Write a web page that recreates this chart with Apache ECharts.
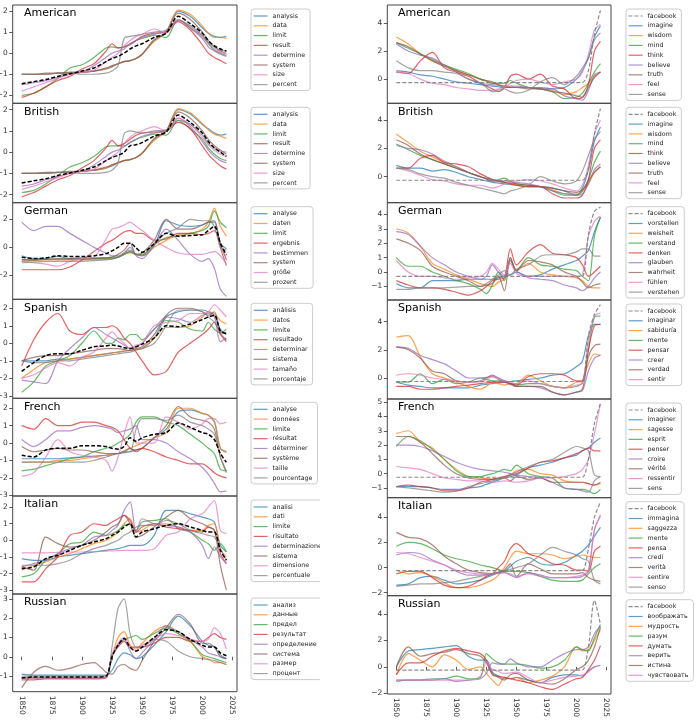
<!DOCTYPE html>
<html><head><meta charset="utf-8">
<script src="https://cdn.jsdelivr.net/npm/echarts@6/dist/echarts.min.js"></script>
<style>html,body{margin:0;padding:0;background:#fff}#c{width:700px;height:722px}</style>
</head><body><div id="c"></div><script>
// ---------------- DATA ----------------
const years = [1850,1860,1870,1880,1890,1900,1910,1920,1925,1930,1935,1940,1945,1950,1960,1970,1980,1990,2000,2005,2010,2015,2020];
const xTicks = [1850,1875,1900,1925,1950,1975,2000,2025];

// Left column: American
const amL_words = ['analysis','data','limit','result','determine','system','size','percent'];
const amL_vals = [
 [-1.0,-1.0,-1.0,-0.95,-0.95,-0.9,-0.85,-0.75,-0.65,-0.5,-0.4,-0.35,-0.25,-0.05,0.6,1.0,2.0,1.75,1.2,0.95,0.8,0.75,0.8],
 [-1.0,-1.0,-1.0,-0.95,-0.95,-0.9,-0.85,-0.75,-0.6,-0.5,-0.4,-0.35,-0.25,-0.05,0.55,1.0,2.05,1.85,1.3,0.95,0.75,0.75,0.7],
 [-2.0,-1.9,-1.6,-1.2,-0.7,-0.55,-0.2,0.25,0.3,0.25,0.3,0.45,0.6,0.7,0.85,0.75,1.6,1.2,0.8,0.45,0.15,0.0,-0.1],
 [-2.1,-1.9,-1.6,-1.3,-1.1,-0.75,-0.5,0.1,0.45,0.25,0.3,0.4,0.6,0.8,0.95,1.0,1.5,1.1,0.4,0.0,-0.2,-0.35,-0.5],
 [-1.5,-1.4,-1.3,-1.15,-1.0,-0.9,-0.6,-0.2,0.0,0.1,0.2,0.45,0.6,0.75,0.9,1.05,1.6,1.2,0.7,0.3,0.1,-0.05,-0.15],
 [-1.0,-1.0,-0.95,-0.95,-0.9,-0.9,-0.85,-0.7,-0.6,-0.5,-0.4,-0.35,-0.25,-0.05,0.65,1.0,1.9,1.6,1.0,0.6,0.3,0.1,0.0],
 [-1.8,-1.6,-1.4,-1.2,-1.0,-0.9,-0.8,-0.4,-0.2,0.0,0.35,0.6,0.8,0.9,1.15,0.95,1.6,1.3,0.8,0.5,0.2,0.05,-0.05],
 [-1.0,-1.0,-1.0,-0.95,-0.95,-1.0,-1.0,-0.95,-0.85,-0.6,0.7,0.8,0.85,0.9,1.0,1.1,1.55,1.3,0.85,0.5,0.3,0.15,0.1]
];
const amL_mean = [-1.45,-1.35,-1.25,-1.1,-0.98,-0.85,-0.7,-0.4,-0.25,-0.15,0.0,0.2,0.35,0.45,0.75,0.95,1.75,1.4,0.95,0.6,0.35,0.2,0.1];

// British
const brL_words = ['analysis','data','limit','result','determine','system','size','percent'];
const brL_vals = [
 [-1.0,-1.0,-1.0,-0.95,-0.95,-0.9,-0.85,-0.75,-0.65,-0.5,-0.4,-0.35,-0.25,-0.05,0.6,1.0,2.0,1.8,1.3,1.1,0.9,0.8,0.85],
 [-1.0,-1.0,-1.0,-0.95,-0.95,-0.9,-0.85,-0.75,-0.6,-0.5,-0.4,-0.35,-0.25,-0.05,0.55,1.0,2.05,1.85,1.35,1.05,0.85,0.75,0.65],
 [-1.9,-1.8,-1.5,-1.1,-0.7,-0.5,-0.2,0.25,0.3,0.3,0.3,0.45,0.6,0.7,0.85,0.8,1.5,1.1,0.6,0.2,-0.1,-0.3,-0.4],
 [-2.1,-1.9,-1.6,-1.3,-1.1,-0.75,-0.4,0.2,0.55,0.3,0.4,0.6,0.8,0.9,0.95,1.0,1.4,1.1,0.3,-0.1,-0.4,-0.65,-0.8],
 [-1.6,-1.5,-1.3,-1.15,-1.0,-0.9,-0.6,-0.2,0.0,0.1,0.25,0.45,0.6,0.75,0.9,1.0,1.6,1.2,0.5,0.1,-0.2,-0.4,-0.5],
 [-1.0,-1.0,-0.95,-0.95,-0.9,-0.9,-0.85,-0.7,-0.6,-0.5,-0.4,-0.35,-0.25,-0.05,0.65,1.0,1.9,1.6,1.0,0.6,0.3,0.1,-0.1],
 [-1.75,-1.6,-1.4,-1.2,-1.0,-0.9,-0.8,-0.4,-0.2,0.0,0.4,0.7,0.9,1.0,1.2,1.0,1.6,1.3,0.7,0.35,0.1,-0.1,-0.2],
 [-1.0,-1.0,-1.0,-0.95,-0.95,-1.0,-1.0,-0.95,-0.85,-0.5,0.85,1.0,0.95,0.9,1.0,1.05,1.5,1.3,0.8,0.4,0.2,0.05,0.0]
];
const brL_mean = [-1.45,-1.35,-1.25,-1.1,-0.98,-0.85,-0.7,-0.4,-0.25,-0.15,0.0,0.3,0.35,0.45,0.75,0.95,1.75,1.4,0.9,0.5,0.2,0.0,-0.2];

// German
const deL_words = ['analyse','daten','limit','ergebnis','bestimmen','system','größe','prozent'];
const deL_vals = [
 [-0.6,-0.8,-0.8,-0.65,-0.8,-0.75,-0.75,-0.75,-0.7,-0.7,-0.5,-0.3,-0.5,-0.6,0.1,1.9,1.6,1.5,1.6,1.8,1.9,0.3,-0.1],
 [-1.0,-0.95,-0.9,-0.9,-0.9,-0.9,-0.85,-0.85,-0.8,-0.7,-0.5,-0.4,-0.5,-0.6,0.0,0.5,0.9,1.0,1.3,1.8,2.8,1.5,0.8],
 [-0.9,-0.9,-0.85,-0.85,-0.85,-0.85,-0.8,-0.8,-0.8,-0.7,-0.5,-0.3,-0.5,-0.5,0.2,0.7,0.8,1.0,1.2,1.5,2.6,1.8,1.4],
 [-1.6,-1.6,-1.6,-1.6,-1.4,-0.9,-0.3,0.3,0.5,0.8,1.1,1.2,1.0,1.0,0.5,0.6,1.0,1.0,0.9,1.0,1.2,0.2,-0.9],
 [1.8,1.2,1.5,1.5,1.0,0.5,0.0,-0.4,-0.6,-0.6,-0.4,0.0,-0.6,-0.8,0.2,1.3,0.5,-0.5,-1.0,-0.8,-1.5,-3.0,-3.5],
 [-0.9,-0.9,-0.85,-0.8,-0.8,-0.8,-0.8,-0.75,-0.7,-0.5,-0.2,0.3,-0.5,-0.4,0.5,2.0,1.3,1.3,1.6,1.8,1.8,0.0,-1.3],
 [-1.0,-1.1,-1.2,-1.35,-1.0,-0.8,-0.7,0.6,1.3,1.4,1.6,1.8,1.5,1.2,0.5,0.0,-0.4,-0.5,-0.5,-0.4,-0.3,-0.6,-1.2],
 [-1.1,-1.05,-1.0,-1.0,-1.0,-1.0,-0.95,-0.9,-0.85,-0.7,-0.4,-0.2,-0.5,-0.6,0.3,1.0,1.4,2.0,1.9,1.9,1.5,0.0,-0.2]
];
const deL_mean = [-0.7,-0.8,-0.75,-0.6,-0.65,-0.65,-0.6,-0.45,-0.25,0.0,0.3,0.3,-0.05,-0.35,0.25,1.0,0.8,0.85,0.9,1.2,1.5,0.3,-0.55];

// Spanish
const esL_words = ['análisis','datos','límite','resultado','determinar','sistema','tamaño','porcentaje'];
const esL_vals = [
 [-1.0,-1.0,-1.0,-0.9,-0.9,-0.8,-0.7,-0.6,-0.55,-0.5,-0.45,-0.4,-0.35,-0.3,0.3,1.5,1.8,1.9,1.9,1.8,1.6,0.8,0.5],
 [-2.0,-1.5,-1.1,-1.0,-0.9,-0.8,-0.7,-0.6,-0.55,-0.5,-0.45,-0.4,-0.35,-0.3,0.3,0.9,0.9,1.0,1.5,1.8,1.7,1.3,1.1],
 [-2.8,-2.2,-1.3,-1.0,-0.7,0.0,0.7,0.0,0.0,0.3,0.2,0.5,0.5,0.2,0.8,1.3,1.2,0.8,0.7,1.2,0.8,0.6,0.8],
 [-1.3,0.2,1.2,1.7,0.7,0.5,0.9,0.9,1.0,0.8,0.3,0.0,-0.5,-1.0,-1.8,-1.6,-0.5,0.0,0.5,0.8,1.2,0.5,0.1],
 [-2.1,-2.2,-2.3,-1.0,-0.3,0.3,0.9,0.5,0.3,0.1,-0.1,-0.3,-0.2,0.0,0.8,1.5,1.4,1.2,1.6,1.7,1.5,0.1,0.3],
 [-1.0,-0.8,-0.7,-0.7,-0.6,-0.5,-0.4,-0.3,-0.3,-0.3,-0.35,-0.4,-0.3,-0.2,0.5,1.6,2.0,2.0,1.8,1.6,1.8,0.6,0.2],
 [-2.0,-1.8,-1.4,-1.1,-1.3,-0.8,-0.5,0.3,0.65,0.3,0.0,-0.3,-0.1,0.0,1.0,1.2,1.3,1.7,1.7,1.8,2.2,1.9,1.5],
 [-1.0,-1.1,-1.1,-1.0,-1.0,-0.9,-0.8,-0.7,-0.65,-0.6,-0.55,-0.5,-0.4,-0.3,0.0,1.0,1.9,1.9,1.8,1.5,1.2,0.7,0.6]
];
const esL_mean = [-1.6,-1.1,-0.7,-0.6,-0.6,-0.4,-0.2,-0.15,-0.1,-0.15,-0.25,-0.3,-0.2,-0.05,0.3,1.0,0.95,1.1,1.35,1.5,1.6,0.7,0.55];

// French
const frL_words = ['analyse','données','limite','résultat','déterminer','système','taille','pourcentage'];
const frL_vals = [
 [-0.9,-0.9,-0.9,-0.9,-0.85,-0.8,-0.75,-0.7,-0.65,-0.6,-0.55,-0.5,-0.4,-0.3,0.3,0.8,1.8,1.9,1.7,1.6,1.2,-0.3,-0.5],
 [-1.1,-1.1,-1.1,-1.0,-1.0,-0.9,-0.8,-0.7,-0.65,-0.6,-0.45,-0.3,-0.15,0.0,0.3,0.6,2.0,2.0,1.7,1.6,1.3,-0.3,-0.55],
 [-1.6,-1.5,-1.3,-1.1,-0.9,-0.8,-0.5,-0.3,-0.2,0.0,0.2,0.5,1.2,1.5,1.5,1.2,1.0,0.5,0.0,-0.3,-0.6,-1.5,-1.6],
 [1.0,0.8,1.4,1.0,1.0,1.2,1.2,1.0,0.9,0.7,0.2,-0.3,-0.4,-0.3,-0.5,-0.8,-1.0,-1.2,-1.2,-1.4,-1.7,-1.9,-2.0],
 [0.2,-0.2,0.2,0.7,0.7,0.9,1.0,0.9,0.8,0.6,0.7,0.8,1.0,0.2,0.2,0.0,-0.5,-0.9,-1.4,-1.8,-2.3,-2.8,-2.75],
 [-0.2,-0.5,-0.4,-0.3,-0.4,-0.4,-0.5,-0.6,-0.6,-0.6,-0.5,-0.3,-0.5,-0.3,0.3,1.0,2.1,1.5,1.3,1.2,0.8,-0.8,-1.6],
 [-1.9,-1.7,-0.8,0.2,-0.5,-0.7,-0.8,-1.0,-1.6,-0.8,0.5,1.5,0.0,0.0,0.0,1.5,1.2,0.8,1.1,1.4,1.4,1.1,1.2],
 [-1.1,-1.1,-1.1,-1.1,-1.1,-1.1,-1.0,-0.8,-0.7,-0.6,-0.5,-0.5,0.8,1.4,1.4,1.3,1.6,1.2,1.0,0.8,0.5,-0.8,-1.7]
];
const frL_mean = [-0.7,-0.8,-0.4,-0.3,-0.3,-0.15,-0.15,-0.2,-0.3,-0.35,-0.2,0.3,0.1,0.3,0.5,0.6,1.15,0.9,0.6,0.5,0.2,-0.6,-1.1];

// Italian
const itL_words = ['analisi','dati','limite','risultato','determinazione','sistema','dimensione','percentuale'];
const itL_vals = [
 [-1.1,-1.2,-1.2,-1.0,-0.9,-0.8,-0.7,-0.6,-0.55,-0.5,-0.4,-0.3,-0.3,-0.3,0.3,1.8,1.8,1.6,1.4,1.3,1.1,-0.3,-0.7],
 [-1.8,-1.5,-1.3,-1.0,-0.8,-0.5,-0.2,0.0,0.2,0.5,1.0,1.3,0.5,0.6,1.0,1.0,0.8,0.6,0.6,0.9,1.0,-0.5,-1.0],
 [-2.2,-2.0,-1.2,-0.8,-0.2,-0.1,0.5,0.3,0.4,0.6,0.9,1.0,0.6,1.1,1.2,1.3,0.7,0.5,0.0,-0.2,-0.6,-0.2,-0.7],
 [-2.5,-2.5,-1.7,-1.0,0.3,0.5,1.0,0.9,1.1,1.3,1.5,1.2,0.5,0.8,1.0,0.8,0.7,0.6,0.5,0.8,0.6,-0.8,-1.4],
 [-1.6,-1.4,-1.2,-0.8,-0.5,-0.3,0.2,0.3,0.6,0.9,1.8,2.3,0.5,1.3,1.0,0.9,0.8,0.5,-0.3,-1.1,-0.4,-1.0,-1.4],
 [-1.6,-1.8,0.2,-0.2,-0.4,-0.3,0.0,0.5,0.8,1.0,1.5,1.0,0.2,0.3,0.8,1.4,1.8,1.3,1.0,0.8,0.6,-1.5,-3.0],
 [-0.75,-0.75,-0.75,-0.72,-0.7,-0.7,-0.68,-0.65,-0.63,-0.62,-0.6,-0.6,-0.6,-0.6,-0.5,0.3,0.5,1.3,1.6,2.0,2.4,0.6,0.4],
 [-1.5,-1.5,-1.5,-1.4,-1.2,-0.8,-0.5,-0.3,-0.15,0.0,0.3,0.5,0.8,0.9,0.9,1.2,1.0,0.6,0.4,0.3,0.2,-0.5,-1.2]
];
const itL_mean = [-1.7,-1.6,-1.1,-0.9,-0.6,-0.3,-0.1,0.1,0.3,0.5,0.8,1.0,0.2,0.5,0.7,0.9,1.0,0.8,0.6,0.5,0.5,-0.6,-1.2];

// Russian
const ruL_words = ['анализ','данные','предел','результат','определение','система','размер','процент'];
const ruL_vals = [
 [-0.9,-0.95,-0.95,-0.95,-0.95,-0.95,-0.95,-0.95,-0.7,-0.1,0.2,0.1,-0.1,0.0,0.6,1.3,2.1,1.6,0.8,0.6,0.5,0.0,-0.1],
 [-1.1,-1.1,-1.1,-1.1,-1.1,-1.1,-1.1,-1.05,0.0,1.0,1.3,0.6,0.4,0.7,1.3,1.6,1.2,0.8,0.0,-0.1,-0.3,-0.3,-0.4],
 [-1.1,-1.1,-1.1,-1.1,-1.1,-1.1,-1.1,-1.05,0.0,0.6,0.9,1.0,1.1,0.9,1.2,1.5,1.2,0.8,0.1,0.0,-0.1,-0.2,-0.3],
 [-1.2,-1.2,-1.15,-1.15,-1.15,-1.15,-1.15,-1.1,0.1,0.5,0.8,0.5,0.5,0.5,0.7,1.0,1.0,0.8,0.8,1.0,1.2,1.0,0.9],
 [-1.1,-1.1,-1.1,-1.1,-1.1,-1.1,-1.1,-1.05,0.0,0.6,0.9,0.3,-0.1,0.2,0.9,1.6,1.3,0.9,0.5,0.2,0.1,0.0,-0.1],
 [-1.6,-0.8,-0.5,-0.7,-0.6,-0.4,-0.3,-0.8,-0.9,-0.5,-0.4,-0.6,-0.7,-0.2,0.8,1.5,2.2,1.7,0.7,0.7,0.5,0.1,-0.1],
 [-1.1,-1.1,-1.1,-1.1,-1.1,-1.1,-1.1,-1.05,0.1,0.7,1.0,0.5,0.3,0.6,0.9,1.2,1.1,0.9,0.8,0.9,1.5,1.2,0.4],
 [-1.0,-1.0,-1.0,-1.0,-1.0,-1.0,-1.0,-1.0,0.5,2.5,3.0,1.2,0.5,0.5,0.9,0.8,0.3,0.0,-0.1,-0.15,-0.2,-0.3,-0.4]
];
const ruL_mean = [-1.1,-1.05,-1.05,-1.05,-1.05,-1.05,-1.05,-1.0,0.0,0.6,0.95,0.5,0.3,0.5,1.0,1.4,1.3,0.9,0.6,0.5,0.5,0.2,0.05];

// Right column: American
const amR_words = ['facebook','imagine','wisdom','mind','think','believe','truth','feel','sense'];
const amR_vals = [
 [-0.25,-0.25,-0.25,-0.25,-0.25,-0.25,-0.25,-0.25,-0.25,-0.25,-0.25,-0.25,-0.25,-0.25,-0.25,-0.25,-0.25,-0.25,-0.25,-0.25,0.6,3.2,4.9],
 [0.6,0.5,0.3,0.2,0.0,-0.2,-0.3,-0.4,-0.45,-0.5,-0.55,-0.6,-0.6,-0.6,-0.6,-0.6,-0.7,-0.6,0.0,0.6,1.5,3.0,3.8],
 [3.0,2.5,1.8,1.3,1.0,0.6,0.3,0.0,-0.15,-0.3,-0.4,-0.5,-0.55,-0.6,-0.6,-0.7,-0.8,-1.1,-0.9,-0.6,-0.3,0.2,0.5],
 [2.6,2.2,1.8,1.4,1.0,0.7,0.4,0.0,-0.15,-0.3,-0.3,-0.3,-0.1,-0.3,-0.6,-0.7,-0.9,-1.4,-1.3,-1.0,-0.3,0.5,1.1],
 [0.5,0.4,1.3,1.9,0.8,0.5,0.2,-0.3,-0.5,-0.7,-0.9,-0.6,0.2,0.35,0.0,0.35,-0.5,-0.7,-1.4,-1.3,-0.4,2.0,2.7],
 [2.5,2.0,1.7,1.5,1.0,0.5,0.0,-0.3,-0.35,-0.4,-0.45,-0.5,-0.5,-0.5,-0.6,-0.7,-0.7,-1.2,-1.4,-1.5,-0.8,0.3,0.5],
 [2.6,2.3,1.8,1.3,0.9,0.6,0.3,0.0,-0.1,-0.2,-0.4,-0.6,-0.6,-0.6,-0.7,-0.7,-0.9,-1.0,-1.2,-1.3,-0.6,0.1,0.5],
 [0.5,0.4,0.0,-0.3,-0.4,-0.6,-0.7,-0.8,-0.8,-0.8,-0.7,-0.6,-0.3,-0.1,0.0,-0.2,-0.4,-0.2,0.0,0.5,1.8,3.5,3.9],
 [1.3,0.8,0.6,0.6,0.5,0.4,0.0,-0.3,-0.6,-0.9,-0.8,-0.7,-0.9,-1.0,-0.8,-0.2,0.1,-0.4,0.2,0.8,1.5,2.8,3.3]
];

// British
const brR_words = ['facebook','imagine','wisdom','mind','think','believe','truth','feel','sense'];
const brR_vals = [
 [-0.25,-0.25,-0.25,-0.25,-0.25,-0.25,-0.25,-0.25,-0.25,-0.25,-0.25,-0.25,-0.25,-0.25,-0.25,-0.25,-0.25,-0.25,-0.25,-0.25,0.5,3.0,4.8],
 [0.8,0.6,0.6,0.4,0.5,0.3,0.0,-0.2,-0.3,-0.4,-0.45,-0.5,-0.55,-0.6,-0.7,-0.7,-0.8,-1.0,-1.3,-0.8,0.5,2.5,3.5],
 [3.0,2.4,1.8,1.4,1.0,0.7,0.3,0.0,-0.15,-0.3,-0.35,-0.4,-0.5,-0.6,-0.7,-0.7,-0.9,-1.2,-1.2,-1.0,-0.5,0.3,0.7],
 [2.3,1.9,1.5,1.2,0.9,0.6,0.3,0.0,-0.15,-0.3,-0.2,-0.1,-0.3,-0.5,-0.6,-0.7,-1.0,-1.3,-1.3,-1.0,-0.2,1.0,1.8],
 [0.6,0.6,1.3,1.5,1.0,0.9,0.7,0.2,0.0,-0.2,-0.3,-0.4,-0.5,-0.6,-0.7,-0.7,-1.2,-1.5,-1.5,-1.3,-0.2,2.0,2.6],
 [2.2,2.0,1.9,1.6,1.1,0.7,0.3,0.0,-0.15,-0.3,-0.3,-0.3,-0.35,-0.4,-0.5,-0.7,-1.0,-1.2,-1.3,-1.2,-0.5,0.5,0.9],
 [2.6,2.2,1.6,1.2,0.9,0.6,0.3,0.0,-0.1,-0.2,-0.3,-0.4,-0.45,-0.5,-0.6,-0.7,-0.8,-1.0,-1.1,-0.9,-0.3,0.3,0.7],
 [0.6,0.4,0.1,-0.2,-0.3,-0.5,-0.6,-0.6,-0.7,-0.8,-0.7,-0.5,-0.4,-0.3,-0.2,-0.3,-0.5,-0.8,-1.0,-0.6,0.8,3.0,4.0],
 [0.6,0.5,0.2,0.0,-0.1,-0.4,-0.6,-0.8,-0.9,-1.0,-1.1,-1.2,-1.0,-0.9,-0.6,0.0,-0.3,-0.5,-0.3,0.4,1.5,2.6,3.2]
];

// German
const deR_words = ['facebook','vorstellen','weisheit','verstand','denken','glauben','wahrheit','fühlen','verstehen'];
const deR_vals = [
 [-0.3,-0.3,-0.3,-0.3,-0.3,-0.3,-0.3,-0.3,-0.3,-0.3,-0.3,-0.3,-0.3,-0.3,-0.3,-0.3,-0.3,-0.3,-0.3,-0.3,2.6,4.2,4.5],
 [-0.8,-1.1,-1.1,-0.6,-0.6,-0.6,-0.5,-0.5,-0.5,-0.5,-0.4,-0.3,-0.2,0.0,-0.3,-0.2,0.2,0.5,0.8,1.1,1.5,2.8,3.8],
 [3.0,2.7,1.8,0.6,0.2,-0.2,-0.5,-0.8,-0.9,-1.0,-0.7,-0.5,0.8,0.1,0.6,0.0,-0.2,-0.3,-0.4,-0.6,-1.0,-1.1,-1.1],
 [1.0,0.4,0.4,0.0,-0.3,-0.6,-0.8,-1.2,-1.5,-0.9,0.0,-0.6,1.0,0.1,1.0,0.5,0.4,0.2,0.1,-0.3,-0.6,2.5,3.8],
 [-0.6,-0.9,-1.1,-1.1,-1.2,-1.4,-1.6,-1.3,-1.0,-0.6,-0.5,-0.4,1.6,0.5,1.4,1.9,1.3,1.2,1.0,0.5,-0.3,0.0,0.4],
 [2.8,2.6,1.8,1.0,0.5,0.0,-0.3,-0.5,-0.3,0.5,0.0,-0.3,0.8,0.1,-0.4,-0.5,-0.6,-0.9,-1.1,-1.3,-1.0,-0.4,0.0],
 [2.3,2.0,1.5,0.4,0.0,-0.3,-0.6,-1.0,-0.9,-0.8,-0.3,-1.3,1.0,0.1,0.8,0.7,0.5,0.0,-0.3,-0.7,-1.1,-0.9,-0.8],
 [0.8,0.0,-0.3,-0.3,-0.4,-0.5,-0.4,-0.3,0.0,0.6,0.2,-0.2,0.6,-0.1,-0.3,-0.3,-0.3,-0.3,-0.3,-0.2,2.5,3.5,3.9],
 [-1.2,-1.2,-1.1,-1.1,-1.1,-1.05,-1.0,-1.0,-0.8,-0.5,-0.2,0.1,-0.2,0.2,0.5,1.1,1.2,1.2,1.4,1.6,1.6,1.1,1.1]
];

// Spanish
const esR_words = ['facebook','imaginar','sabiduría','mente','pensar','creer','verdad','sentir'];
const esR_vals = [
 [-0.25,-0.25,-0.25,-0.25,-0.25,-0.25,-0.25,-0.25,-0.25,-0.25,-0.25,-0.25,-0.25,-0.25,-0.25,-0.25,-0.25,-0.25,-0.25,-0.25,3.0,4.5,5.2],
 [-0.3,-0.5,-0.6,-0.7,-0.7,-0.7,-0.7,-0.5,-0.45,-0.4,-0.35,-0.3,-0.25,-0.2,-0.1,0.0,0.2,0.3,0.8,1.2,3.0,3.8,3.8],
 [2.9,3.0,1.5,0.3,0.0,-0.3,-0.6,-0.8,-0.6,-0.3,-0.4,-0.5,-0.4,-0.4,0.2,-0.2,-0.6,-0.7,-0.3,-0.2,1.0,1.7,1.6],
 [-0.3,-0.3,0.3,-0.4,-0.1,-0.4,-0.3,0.0,-0.1,-0.2,-0.2,-0.2,-0.4,-0.5,-0.4,-0.4,-0.6,-0.7,-0.6,-0.3,2.0,4.3,4.4],
 [-0.6,-0.6,-0.8,-0.8,-0.7,-0.6,-0.5,-0.4,-0.35,-0.3,-0.3,-0.3,-0.4,-0.5,0.1,0.3,0.3,0.2,-0.2,-0.2,2.0,3.7,3.8],
 [2.2,2.1,1.6,1.3,1.0,0.5,0.0,0.0,0.05,0.1,-0.1,-0.3,-0.45,-0.6,-0.6,-0.7,-1.0,-1.2,-1.0,-0.9,0.5,1.4,1.6],
 [2.2,2.0,1.4,0.5,0.3,-0.2,-0.3,-0.2,0.0,0.2,0.0,-0.2,-0.4,-0.6,-0.6,-0.6,-1.0,-1.2,-1.0,-0.8,1.5,2.3,2.4],
 [0.2,0.3,0.2,0.0,-0.1,-0.2,-0.3,-0.3,-0.1,0.1,0.0,-0.2,-0.3,-0.4,-0.2,-0.4,-0.6,-0.7,-0.5,-0.4,2.5,4.4,4.6]
];

// French
const frR_words = ['facebook','imaginer','sagesse','esprit','penser','croire','vérité','ressentir','sens'];
const frR_vals = [
 [-0.25,-0.25,-0.25,-0.25,-0.25,-0.25,-0.25,-0.25,-0.25,-0.25,-0.25,-0.25,-0.25,-0.25,-0.25,-0.25,-0.25,-0.25,-0.25,-0.25,1.0,3.5,4.9],
 [-0.9,-0.9,-0.9,-1.0,-1.1,-1.1,-1.0,-0.9,-0.75,-0.6,-0.45,-0.3,-0.2,-0.1,0.4,0.6,0.8,1.1,1.3,1.6,1.8,2.2,2.5],
 [2.8,3.0,2.2,1.8,1.0,0.3,-0.2,-0.3,-0.35,-0.4,-0.35,-0.3,-0.1,0.2,0.3,0.0,-0.1,-0.5,-0.6,-0.6,-0.7,-0.8,-0.7],
 [1.9,2.6,2.3,1.7,1.0,0.2,-0.2,-0.2,-0.1,0.0,0.15,0.3,0.2,0.6,0.0,-0.2,-0.3,-1.0,-1.1,-1.1,-1.2,-1.4,-1.1],
 [-0.9,-0.8,-0.9,-1.0,-1.2,-1.2,-1.0,-0.6,-0.5,-0.4,-0.3,-0.2,-0.1,0.0,0.4,0.8,0.9,1.1,1.4,1.6,1.8,1.6,1.6],
 [2.0,2.0,1.9,1.6,1.2,0.8,0.5,0.3,0.25,0.2,0.15,0.1,0.0,-0.1,-0.2,-0.3,-0.6,-1.0,-1.1,-1.2,-1.3,-0.5,-0.2],
 [2.6,2.6,2.2,1.4,0.6,0.0,-0.3,-0.4,-0.4,-0.4,-0.35,-0.3,-0.5,-0.2,-0.4,-0.3,-0.6,-0.6,-0.6,-0.6,-0.7,-0.8,-0.6],
 [0.5,0.4,0.3,0.0,-0.3,-0.4,-0.5,-0.5,-0.55,-0.6,-0.55,-0.5,-0.55,-0.6,-0.5,-0.3,-0.3,-0.2,0.0,0.3,1.0,2.8,4.9],
 [-0.9,-1.0,-1.1,-1.2,-1.3,-1.2,-0.9,-0.7,-0.6,-0.5,-0.35,-0.2,-0.05,0.1,0.5,0.8,1.0,1.5,1.9,1.8,1.6,-0.1,-0.2]
];

// Italian
const itR_words = ['facebook','immagina','saggezza','mente','pensa','credi','verità','sentire','senso'];
const itR_vals = [
 [-0.25,-0.25,-0.25,-0.25,-0.25,-0.25,-0.25,-0.25,-0.25,-0.25,-0.25,-0.25,-0.25,-0.25,-0.25,-0.25,-0.25,-0.25,-0.25,-0.25,1.5,4.0,5.2],
 [-1.4,-1.3,-0.8,-0.7,-1.0,-1.3,-1.2,-1.0,-0.8,-0.6,-0.45,-0.3,0.1,0.5,0.8,0.3,0.2,0.4,1.0,1.3,1.8,2.5,3.2],
 [-0.2,-0.5,-0.4,-0.7,-1.2,-1.6,-1.6,-1.4,-1.2,-1.0,-0.6,0.0,0.8,1.3,1.1,1.1,1.0,0.7,0.9,1.0,0.9,0.8,0.8],
 [1.7,2.0,1.9,1.5,1.0,0.7,0.5,0.2,0.1,0.0,-0.15,-0.3,-0.3,-0.3,-0.4,-0.7,-1.0,-1.1,-1.1,-1.0,-0.5,0.0,0.3],
 [-0.5,-0.3,-0.3,-0.8,-1.4,-1.6,-1.5,-1.0,-0.7,-0.5,0.0,0.5,1.5,1.9,1.1,0.8,0.3,0.2,-0.2,-0.2,-0.3,1.3,1.7],
 [1.0,1.2,1.1,0.6,0.2,-0.3,-0.6,-0.6,-0.55,-0.5,-0.45,-0.4,-0.6,-0.8,-0.4,-0.6,-0.8,-0.8,-0.8,-0.7,-0.3,3.0,4.1],
 [2.8,2.4,2.3,1.8,0.9,0.3,-0.2,-0.4,-0.45,-0.5,-0.35,-0.2,0.3,-0.7,0.3,-0.1,-0.5,-0.5,-0.5,-0.4,-0.8,-1.0,-1.1],
 [1.2,1.1,0.8,0.5,0.2,-0.2,-0.4,-0.5,-0.5,-0.5,-0.45,-0.4,-0.5,-0.7,-0.5,-0.7,-0.8,-0.8,-0.7,-0.6,-0.2,3.0,4.2],
 [-1.5,-1.4,-1.3,-1.3,-1.2,-1.1,-0.9,-0.7,-0.6,-0.5,-0.4,-0.3,-0.15,0.0,0.3,1.0,1.6,1.3,1.0,0.7,0.5,-1.0,-1.3]
];

// Russian
const ruR_words = ['facebook','воображать','мудрость','разум','думать','верить','истина','чувствовать'];
const ruR_vals = [
 [-0.25,-0.25,-0.25,-0.25,-0.25,-0.25,-0.25,-0.25,-0.25,-0.25,-0.25,-0.25,-0.25,-0.25,-0.25,-0.25,-0.25,-0.25,-0.25,-0.25,1.5,5.0,3.2],
 [0.0,1.2,1.3,1.4,1.5,1.6,0.8,0.5,0.5,-0.4,-0.7,-0.9,-0.9,-0.8,-1.0,-1.2,-0.8,-0.6,-0.6,-0.7,-0.3,0.0,0.1],
 [-0.6,1.0,0.5,0.0,0.9,0.5,-0.2,0.0,-0.5,-1.0,-1.4,-0.8,-0.9,-0.8,-1.2,-1.0,-0.7,0.0,1.5,1.2,1.3,2.0,2.8],
 [-1.1,-1.0,-1.0,-0.9,-0.9,-0.7,-0.9,-0.8,1.0,0.6,0.3,0.2,0.2,0.2,0.1,-0.1,0.0,0.5,1.5,1.3,1.2,2.2,3.2],
 [-0.6,0.3,0.3,0.8,1.2,1.4,1.2,1.0,0.5,-0.6,-0.7,-0.8,-0.9,-1.0,-1.2,-1.5,-1.7,-1.3,-0.9,-0.8,-0.2,0.5,1.6],
 [-1.0,-1.0,-1.0,-1.0,-0.9,-1.1,-1.0,-0.9,-0.5,0.3,0.2,0.2,0.6,0.3,0.0,0.0,0.5,1.0,1.3,1.3,1.5,2.5,3.1],
 [0.0,1.5,0.8,1.0,1.1,1.3,1.0,0.8,0.3,-0.5,-0.8,-1.0,-0.6,-0.5,-1.0,-1.2,-1.3,-0.9,-0.2,0.0,0.5,1.5,3.0],
 [-1.0,-1.0,-1.0,-1.0,-1.0,-1.0,-1.0,-0.7,0.3,-0.2,-0.35,-0.5,-0.45,-0.4,-0.8,-1.2,-1.0,-0.8,-0.7,-0.6,-0.4,0.0,0.1]
];

// y tick labels per panel
const yTicksL = [[-2,-1,0,1,2],[-2,-1,0,1,2],[-2,0,2],[-3,-2,-1,0,1,2],[-3,-2,-1,0,1,2],[-3,-2,-1,0,1,2],[-1,0,1,2,3]];
const yTicksR = [[0,2,4],[0,2,4],[-1,0,1,2,3,4],[0,2,4],[-1,0,1,2,3,4,5],[-2,0,2,4],[-2,0,2,4]];
const titles = ['American','British','German','Spanish','French','Italian','Russian'];

// ---------------- LAYOUT / STYLE ----------------
const COLORS = ['#1f77b4','#ff7f0e','#2ca02c','#d62728','#9467bd','#8c564b','#e377c2','#7f7f7f'];
const FONT = 'DejaVu Sans';
const L = {tops:[5,103.3,202.7,299.3,398.3,496,594], bots:[103.3,202.7,299.3,398.3,496,594,691.7],
  left:12.7, width:224.3, titleX:24, legendX:251,
  ranges:[[-2.38,2.29],[-2.38,2.30],[-3.71,3.19],[-3.14,2.51],[-3.04,2.57],[-3.23,2.67],[-1.81,3.25]]};
const R = {tops:[5,103.3,202.7,300,399,497.7,595.7], bots:[103.3,202.7,300,399,497.7,595.7,694],
  left:387.3, width:223.7, titleX:398, legendX:626,
  ranges:[[-1.73,5.29],[-1.83,5.17],[-1.94,4.81],[-1.49,5.53],[-1.68,5.22],[-2.24,5.56],[-2.05,5.37]]};

const leftData = [[amL_words,amL_vals,amL_mean],[brL_words,brL_vals,brL_mean],[deL_words,deL_vals,deL_mean],
  [esL_words,esL_vals,esL_mean],[frL_words,frL_vals,frL_mean],[itL_words,itL_vals,itL_mean],[ruL_words,ruL_vals,ruL_mean]];
const rightData = [[amR_words,amR_vals],[brR_words,brR_vals],[deR_words,deR_vals],[esR_words,esR_vals],
  [frR_words,frR_vals],[itR_words,itR_vals],[ruR_words,ruR_vals]];

const grid=[], xAxis=[], yAxis=[], series=[], legend=[], title=[];
const fmt = v => (v < 0 ? '\u2212' + (-v) : '' + v);
const pair = arr => years.map((y,k) => [y, arr[k]]);

function addPanel(col, row, words, vals, mean, yticks) {
  const C = col === 0 ? L : R;
  const gi = grid.length;
  const top = C.tops[row], bot = C.bots[row];
  const bottom = row === 6;
  grid.push({left:C.left, top:top, width:C.width, height:bot-top, show:true,
    borderColor:'#444', borderWidth:1, backgroundColor:'transparent', containLabel:false, outerBoundsMode:'none'});
  xAxis.push({gridIndex:gi, type:'value', min:1842.5, max:2028.8,
    axisLine:{show:false}, splitLine:{show:false},
    axisTick:{show:bottom, customValues:xTicks, length:3.5, lineStyle:{color:'#333',width:0.8}},
    axisLabel:{show:bottom, customValues:xTicks, rotate:-90, fontSize:7.5, color:'#333', margin:4, fontFamily:FONT,
      formatter: v => String(Math.round(v))}});
  yAxis.push({gridIndex:gi, type:'value', min:C.ranges[row][0], max:C.ranges[row][1],
    axisLine:{show:false}, splitLine:{show:false},
    axisTick:{show:true, customValues:yticks, length:3.5, lineStyle:{color:'#333',width:0.8}},
    axisLabel:{customValues:yticks, fontSize:7.5, color:'#333', margin:5, fontFamily:FONT, formatter:fmt}});
  title.push({text:titles[row], left:C.titleX, top:top+3, padding:0,
    textStyle:{fontSize:11, fontWeight:'normal', color:'#000', fontFamily:FONT}});
  const names = [];
  words.forEach((w,k) => {
    const isFb = col === 1 && k === 0;
    const color = isFb ? '#7f7f7f' : COLORS[col === 1 ? k-1 : k];
    names.push(w);
    series.push({type:'line', name:w, xAxisIndex:gi, yAxisIndex:gi, data:pair(vals[k]),
      symbol:'none', showSymbol:false, smooth:0.3, color:color, silent:true,
      lineStyle:{width:1.2, color:color, opacity: isFb ? 0.9 : 0.72, type: isFb ? [4,2] : 'solid'},
      emphasis:{disabled:true}, z: isFb ? 3 : 2});
  });
  if (mean) {
    series.push({type:'line', name:'mean_'+gi, xAxisIndex:gi, yAxisIndex:gi, data:pair(mean),
      symbol:'none', showSymbol:false, smooth:0.3, color:'#000', silent:true,
      lineStyle:{width:1.5, color:'#000', type:[4,2]}, emphasis:{disabled:true}, z:5});
  }
  legend.push({data:names, orient:'vertical', left:C.legendX, top:top+4,
    itemWidth:14, itemHeight:8, itemGap:1.8, padding:[3,5,2,2],
    borderColor:'#ccc', borderWidth:1, borderRadius:3, backgroundColor:'#fff',
    itemStyle:{opacity:0}, lineStyle:{width:1.2},
    selectedMode:false, textStyle:{fontSize:6.3, color:'#222', fontFamily:FONT, lineHeight:8}});
}

for (let r=0;r<7;r++) addPanel(0, r, leftData[r][0], leftData[r][1], leftData[r][2], yTicksL[r]);
for (let r=0;r<7;r++) addPanel(1, r, rightData[r][0], rightData[r][1], null, yTicksR[r]);

const chart = echarts.init(document.getElementById('c'), null, {renderer:'canvas'});
chart.setOption({
  animation:false, backgroundColor:'#fff',
  grid, xAxis, yAxis, series, legend, title,
  graphic:[{type:'rect', left:320, top:490, shape:{width:44, height:205}, style:{fill:'#fff'}, z:100, silent:true}]
});
</script></body></html>
